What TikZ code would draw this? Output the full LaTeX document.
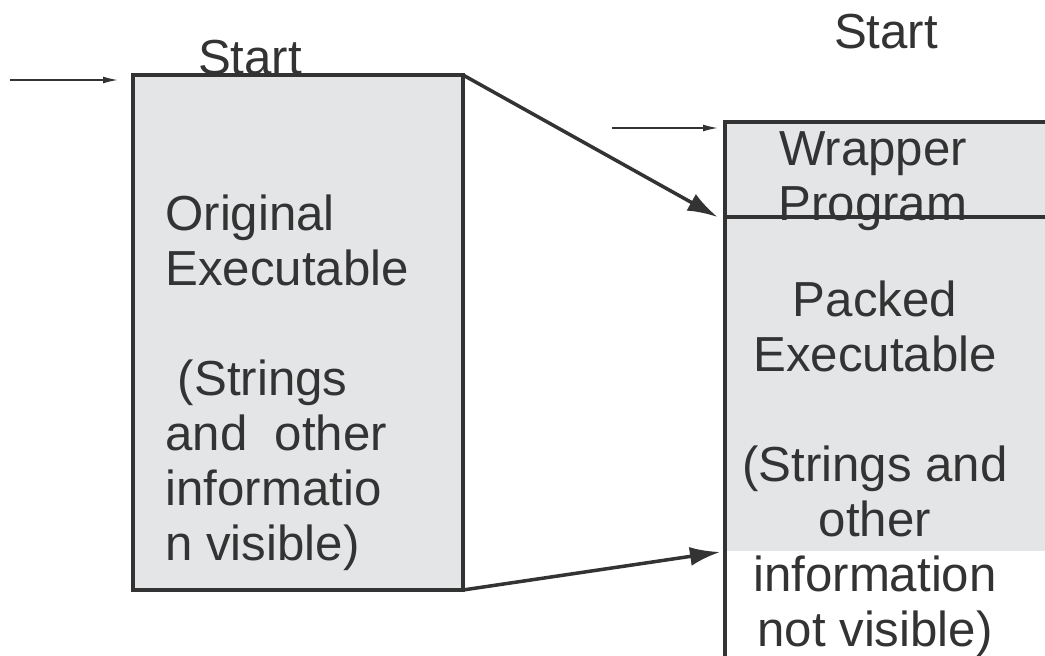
\documentclass[tikz,border=0pt]{standalone}
\usepackage{fontspec}
\setmainfont{Liberation Sans}
\usetikzlibrary{arrows.meta}
\definecolor{boxgray}{HTML}{E4E5E7}
\definecolor{ink}{HTML}{333333}
\tikzset{lbl/.style={font=\fontsize{28}{31.3}\selectfont, text=ink, inner sep=0pt}}
\tikzset{box/.style={draw=ink, line width=2.2pt, rectangle, inner sep=0pt, outer sep=0pt}}
\tikzset{fat/.style={draw=ink, line width=2pt, -{Latex[length=0.6cm,width=0.38cm]}}}
\tikzset{feed/.style={draw=ink, line width=0.9pt, -{Latex[length=0.3cm,width=0.14cm]}}}

\begin{document}
\begin{tikzpicture}
  \useasboundingbox (0,0) rectangle (20.9,13.1);
  \clip (0,0) rectangle (20.9,13.1);
  % grey part of the packed file
  \fill[boxgray] (14.5,8.76) rectangle (22,2.08);
  \node[box, fill=boxgray, minimum width=6.6cm, minimum height=10.3cm] (orig) at (5.96,6.45) {};
  \node[box, fill=boxgray, minimum width=7.5cm, minimum height=1.9cm] (wrap) at (18.25,9.71) {};
  \node[box, minimum width=7.5cm, minimum height=9.76cm, anchor=north west] (packed) at (wrap.south west) {};
  \coordinate (split) at (14.4,2.06);
  \node[lbl, align=left, anchor=west] (origtxt) at (3.3,5.45)
    {Original\\Executable\\[31.3pt]\hspace{0.25cm}(Strings\\and\ \ other\\informatio\\n visible)};
  \node[lbl, align=center] (wraptxt) at (17.46,9.48) {Wrapper\\Program};
  \node[lbl, align=center] (packtxt) at (17.5,3.73)
    {Packed\\Executable\\[31.3pt](Strings and\\other\\information\\not visible)};
  \node[lbl] (start1) at (5.0,11.94) {Start};
  \node[lbl] (start2) at (17.72,12.46) {Start};
  % entry points
  \coordinate (in1) at (0.2,11.5);
  \coordinate (in2) at (12.24,10.54);
  \draw[feed] (in1) -- (2.36,11.5);
  \draw[feed] (in2) -- (14.36,10.54);
  % packing
  \draw[fat] (orig.north east) -- ([xshift=-1.5mm]wrap.south west);
  \draw[fat] (orig.south east) -- (split);
\end{tikzpicture}
\end{document}
